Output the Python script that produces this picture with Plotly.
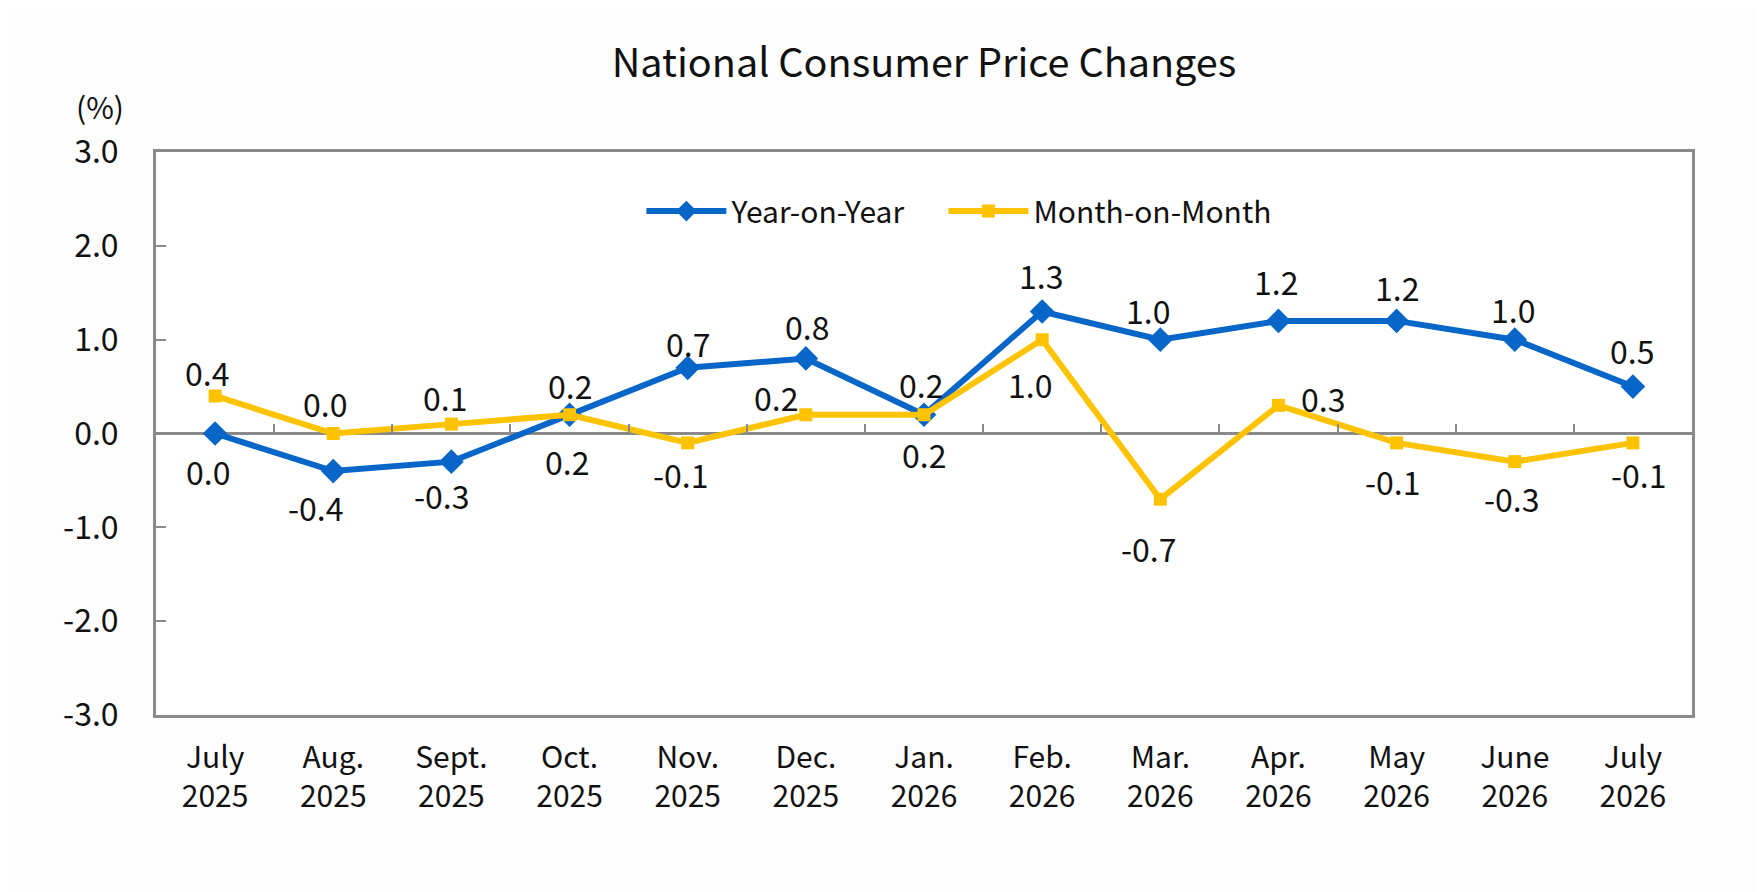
import plotly.graph_objects as go

# months on the x axis
CATEGORIES = ["July<br>2025", "Aug.<br>2025", "Sept.<br>2025", "Oct.<br>2025", "Nov.<br>2025",
              "Dec.<br>2025", "Jan.<br>2026", "Feb.<br>2026", "Mar.<br>2026", "Apr.<br>2026",
              "May<br>2026", "June<br>2026", "July<br>2026"]

# CPI changes, %
YEAR_ON_YEAR = [0.0, -0.4, -0.3, 0.2, 0.7, 0.8, 0.2, 1.3, 1.0, 1.2, 1.2, 1.0, 0.5]
MONTH_ON_MONTH = [0.4, 0.0, 0.1, 0.2, -0.1, 0.2, 0.2, 1.0, -0.7, 0.3, -0.1, -0.3, -0.1]

Y_TICKS = [-3.0, -2.0, -1.0, 0.0, 1.0, 2.0, 3.0]

# label placement in px relative to the point (dx right, dy down), like the hand-placed excel labels
YOY_LABEL_SHIFT = [(-7, 37), (-17, 36), (-9, 33), (-3, 46), (0, -25), (1, -32), (-3, -31),
                   (-1, -37), (-12, -30), (-2, -40), (0, -34), (-2, -31), (-1, -37)]
MOM_LABEL_SHIFT = [(-8, -24), (-8, -31), (-6, -27), (0, -30), (-7, 31), (-30, -18), (0, 39),
                   (-12, 44), (-11, 49), (45, -7), (-4, 38), (-3, 36), (6, 31)]

BLUE = "#0866c9"
GOLD = "#fdc300"
GREY = "#8a8a8a"
INK = "#111111"
FONT = "Noto Sans CJK SC"

fig = go.Figure()

fig.add_trace(go.Scatter(
    x=CATEGORIES, y=YEAR_ON_YEAR, name="Year-on-Year", mode="lines+markers",
    line=dict(color=BLUE, width=6),
    marker=dict(symbol="diamond", size=19, color=BLUE),
    legendwidth=207,
))
fig.add_trace(go.Scatter(
    x=CATEGORIES, y=MONTH_ON_MONTH, name="Month-on-Month", mode="lines+markers",
    line=dict(color=GOLD, width=6),
    marker=dict(symbol="square", size=13, color=GOLD),
    legendwidth=260,
))
# carrier for the tick marks sitting on the zero line
fig.add_trace(go.Scatter(
    x=CATEGORIES, y=YEAR_ON_YEAR, xaxis="x2", mode="lines", line=dict(width=0),
    opacity=0, hoverinfo="skip", showlegend=False,
))

annotations = []
for values, shifts in ((YEAR_ON_YEAR, YOY_LABEL_SHIFT), (MONTH_ON_MONTH, MOM_LABEL_SHIFT)):
    for cat, v, (dx, dy) in zip(CATEGORIES, values, shifts):
        annotations.append(dict(
            x=cat, y=v, xref="x", yref="y", text=f"{v:.1f}", showarrow=False,
            xanchor="center", yanchor="middle", xshift=dx, yshift=-dy,
            font=dict(family=FONT, size=32, color=INK),
        ))
annotations.append(dict(
    x=0, y=1, xref="paper", yref="paper", text="(%)", showarrow=False,
    xanchor="center", yanchor="middle", xshift=-56, yshift=46,
    font=dict(family=FONT, size=30, color=INK),
))

# the page puts the figure 8px in from the top-left corner
fig.update_layout(
    width=1755, height=884,
    margin=dict(l=148, r=71, t=144, b=177),
    paper_bgcolor="#fdfdfd", plot_bgcolor="#ffffff",
    font=dict(family=FONT, color=INK),
    title=dict(text="National Consumer Price Changes", x=0.5, xref="paper", xanchor="center",
               y=1 - 55 / 884, yref="container", yanchor="middle",
               font=dict(family=FONT, size=39.6, color=INK)),
    showlegend=True,
    legend=dict(orientation="h", x=0.316, xanchor="left", y=0.895, yanchor="middle",
                bgcolor="rgba(0,0,0,0)", font=dict(family=FONT, size=30, color=INK),
                itemwidth=80),
    annotations=annotations,
    xaxis=dict(type="category", categoryorder="array", categoryarray=CATEGORIES,
               range=[-0.5, len(CATEGORIES) - 0.5], showgrid=False, zeroline=False,
               showline=True, mirror=True, linecolor=GREY, linewidth=3, ticks="",
               ticklabelstandoff=14, tickfont=dict(family=FONT, size=30, color=INK)),
    xaxis2=dict(type="category", categoryorder="array", categoryarray=CATEGORIES,
                range=[-0.5, len(CATEGORIES) - 0.5], overlaying="x", anchor="free",
                position=0.5, side="bottom", showgrid=False, zeroline=False, showline=False,
                ticks="inside", tickson="boundaries", ticklen=10, tickwidth=2,
                tickcolor=GREY, showticklabels=False),
    yaxis=dict(range=[-3, 3], tickvals=Y_TICKS, ticktext=[f"{v:.1f}" for v in Y_TICKS],
               showgrid=False, zeroline=True, zerolinecolor=GREY, zerolinewidth=2.5,
               showline=True, mirror=True, linecolor=GREY, linewidth=3,
               ticks="inside", ticklen=10, tickwidth=2, tickcolor=GREY,
               ticklabelstandoff=28, tickfont=dict(family=FONT, size=32, color=INK)),
)

fig.write_html("out.html")
